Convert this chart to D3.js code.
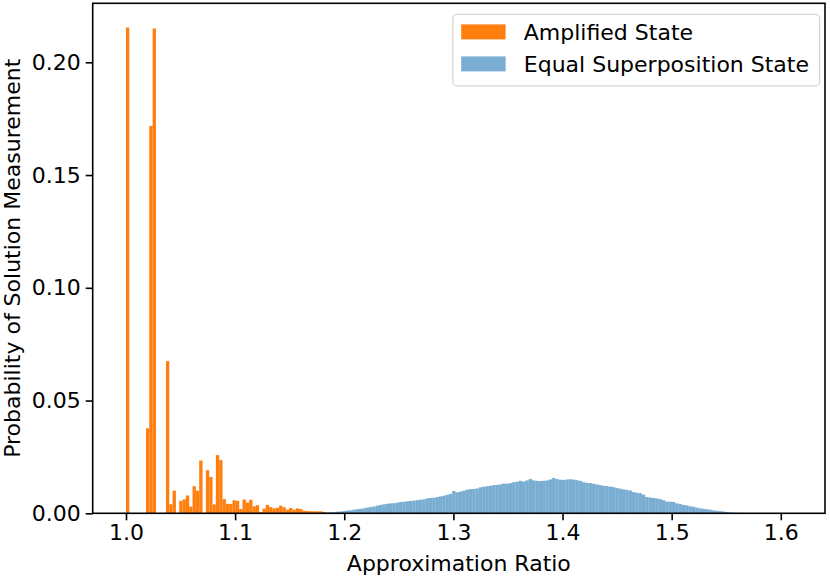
<!DOCTYPE html>
<html>
<head>
<meta charset="utf-8">
<script src="https://cdn.jsdelivr.net/npm/d3@7"></script>
<style>
  html, body { margin: 0; padding: 0; background: #fff; }
  svg { display: block; font-family: "DejaVu Sans", sans-serif; }
</style>
</head>
<body>
<svg id="chart" width="830" height="579"></svg>
<script>
// ── Data ──
const BIN_MIN = 1.0;
const BIN_WIDTH = 0.00305;

// Amplified state: probability per bin, starting at bin 0 (x = 1.0)
const amplified = [
  0.2154, 0, 0, 0, 0, 0, 0.0377, 0.1718, 0.2150, 0,
  0, 0, 0.0675, 0.0040, 0.0100, 0, 0.0055, 0.0062, 0.0079, 0.0030,
  0.0120, 0.0100, 0.0234, 0, 0.0191, 0.0161, 0.0039, 0.0258, 0.0236, 0.0063,
  0.0042, 0.0042, 0.0058, 0.0055, 0.0019, 0.0061, 0.0048, 0.0060, 0.0031, 0.0036,
  0.0006, 0.0021, 0.0037, 0.0027, 0.0022, 0.0024, 0.0034, 0.0027, 0.0016, 0.0024,
  0.0016, 0.0022, 0.0019, 0.0012, 0.0010, 0.0009, 0.0009, 0.0009, 0.0009, 0.0006
];

// Equal superposition state: probability per bin, starting at bin 57
const EQUAL_FIRST_BIN = 57;
const equalSuper = [
  0.0001, 0.0002, 0.0003, 0.0004, 0.0005, 0.0006, 0.0007, 0.0008, 0.0010, 0.0012,
  0.0013, 0.0016, 0.0018, 0.0020, 0.0022, 0.0025, 0.0028, 0.0030, 0.0034, 0.0037,
  0.0040, 0.0042, 0.0044, 0.0045, 0.0047, 0.0050, 0.0051, 0.0053, 0.0055, 0.0056,
  0.0058, 0.0060, 0.0062, 0.0066, 0.0068, 0.0069, 0.0072, 0.0075, 0.0078, 0.0082,
  0.0086, 0.0099, 0.0093, 0.0096, 0.0100, 0.0105, 0.0107, 0.0108, 0.0110, 0.0115,
  0.0118, 0.0120, 0.0122, 0.0125, 0.0126, 0.0128, 0.0132, 0.0131, 0.0134, 0.0138,
  0.0140, 0.0144, 0.0141, 0.0146, 0.0152, 0.0146, 0.0144, 0.0143, 0.0144, 0.0146,
  0.0150, 0.0157, 0.0152, 0.0149, 0.0148, 0.0150, 0.0151, 0.0149, 0.0147, 0.0144,
  0.0138, 0.0135, 0.0134, 0.0131, 0.0128, 0.0125, 0.0122, 0.0121, 0.0118, 0.0116,
  0.0112, 0.0109, 0.0106, 0.0104, 0.0101, 0.0094, 0.0091, 0.0089, 0.0083, 0.0072,
  0.0070, 0.0068, 0.0066, 0.0063, 0.0058, 0.0052, 0.0051, 0.0050, 0.0044, 0.0041,
  0.0037, 0.0035, 0.0031, 0.0029, 0.0025, 0.0022, 0.0020, 0.0018, 0.0016, 0.0013,
  0.0011, 0.0010, 0.0008, 0.0006, 0.0004, 0.0003, 0.0002, 0.0002, 0.0001, 0.0001,
  0.0001, 0.0001, 0.0001, 0.0001, 0.00005, 0.00005, 0.00005, 0.00005, 0.00005, 0.00005,
  0.00005, 0.00005, 0.00005
];

const xTicks = [1.0, 1.1, 1.2, 1.3, 1.4, 1.5, 1.6];
const yTicks = [0, 0.05, 0.10, 0.15, 0.20];
const seriesNames = ["Amplified State", "Equal Superposition State"];

// ── Layout ──
const W = 830, H = 579;
const M = { left: 92.7, right: 5, top: 3.3, bottom: 65.7 };
const FS = 22;
const ORANGE = "#ff7f0e";
const BLUE = "rgba(31,119,180,0.6)";

const svg = d3.select("#chart");

// matplotlib-style 5% margins around data extent
const xLo = BIN_MIN, xHi = BIN_MIN + 200 * BIN_WIDTH;
const yMax = d3.max([...amplified, ...equalSuper]);
const x = d3.scaleLinear()
  .domain([xLo - 0.05 * (xHi - xLo), xHi + 0.05 * (xHi - xLo)])
  .range([M.left, W - M.right]);
const y = d3.scaleLinear()
  .domain([0, yMax * 1.05])
  .range([H - M.bottom, M.top]);

const toBins = (vals, first) => vals.map((v, i) => ({
  x0: BIN_MIN + (first + i) * BIN_WIDTH,
  x1: BIN_MIN + (first + i + 1) * BIN_WIDTH,
  v
})).filter(d => d.v > 0);

const drawBars = (bins, fill) => {
  svg.append("g").selectAll("rect")
    .data(bins)
    .join("rect")
    .attr("x", d => x(d.x0))
    .attr("width", d => x(d.x1) - x(d.x0))
    .attr("y", d => y(d.v))
    .attr("height", d => y(0) - y(d.v))
    .attr("fill", fill);
};

drawBars(toBins(amplified, 0), ORANGE);
drawBars(toBins(equalSuper, EQUAL_FIRST_BIN), BLUE);

// ── Axes ──
const xAxis = svg.append("g")
  .attr("transform", `translate(0,${H - M.bottom})`)
  .call(d3.axisBottom(x).tickValues(xTicks).tickFormat(d3.format(".1f")).tickSize(7).tickPadding(4));
const yAxis = svg.append("g")
  .attr("transform", `translate(${M.left},0)`)
  .call(d3.axisLeft(y).tickValues(yTicks).tickFormat(d3.format(".2f")).tickSize(7).tickPadding(5));

[xAxis, yAxis].forEach(a => {
  a.select(".domain").remove();
  a.selectAll(".tick line").attr("stroke", "#000").attr("stroke-width", 1.6);
  a.selectAll(".tick text").attr("fill", "#000")
    .style("font-size", `${FS}px`).style("font-family", "DejaVu Sans");
});

// spines
svg.append("rect")
  .attr("x", M.left).attr("y", M.top)
  .attr("width", W - M.left - M.right).attr("height", H - M.top - M.bottom)
  .attr("fill", "none").attr("stroke", "#000").attr("stroke-width", 1.6);

// axis labels
svg.append("text")
  .attr("x", (M.left + W - M.right) / 2).attr("y", 571)
  .attr("text-anchor", "middle")
  .style("font-size", `${FS}px`)
  .text("Approximation Ratio");

svg.append("text")
  .attr("transform", `translate(20,${(M.top + H - M.bottom) / 2}) rotate(-90)`)
  .attr("text-anchor", "middle")
  .style("font-size", `${FS}px`)
  .text("Probability of Solution Measurement");

// ── Legend ──
const lg = svg.append("g").attr("transform", "translate(452.8,14.4)");
lg.append("rect")
  .attr("width", 366.8).attr("height", 71.4).attr("rx", 4)
  .attr("fill", "rgba(255,255,255,0.8)").attr("stroke", "#d6d6d6").attr("stroke-width", 1.3);
[ORANGE, BLUE].forEach((c, i) => {
  const row = lg.append("g").attr("transform", `translate(0,${10 + i * 32})`);
  row.append("rect").attr("x", 8.4).attr("y", 0).attr("width", 44.4).attr("height", 15)
    .attr("fill", c);
  row.append("text").attr("x", 71).attr("y", 15.5)
    .style("font-size", `${FS}px`)
    .text(seriesNames[i]);
});
</script>
</body>
</html>
